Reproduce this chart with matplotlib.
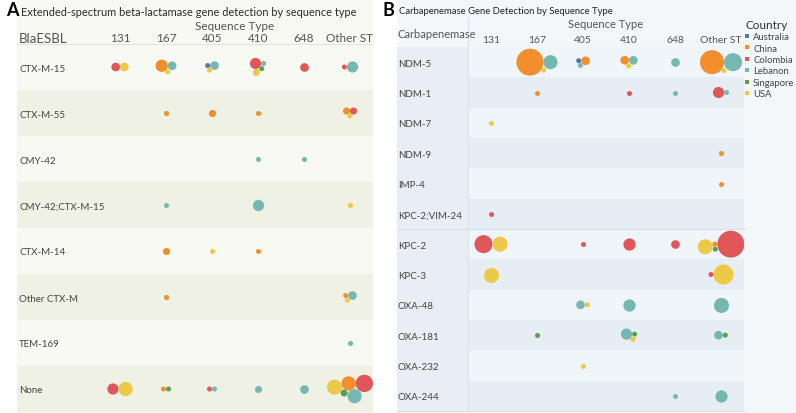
import numpy as np
import matplotlib.pyplot as plt
from matplotlib.lines import Line2D
from matplotlib.patches import Rectangle

plt.rcParams['font.family'] = ['Lato', 'DejaVu Sans']

W, H = 796, 414

sequence_types = ['131', '167', '405', '410', '648', 'Other ST']
countries = ['Australia', 'China', 'Colombia', 'Lebanon', 'Singapore', 'USA']
country_colors = ['#4e79a7', '#f28e2b', '#e15759', '#76b7b2', '#59a14f', '#edc948']

esbl_genes = ['CTX-M-15', 'CTX-M-55', 'CMY-42', 'CMY-42;CTX-M-15', 'CTX-M-14',
              'Other CTX-M', 'TEM-169', 'None']
# (gene, sequence type, country, number of isolates)
esbl_counts = [
    ('CTX-M-15', '131', 'Colombia', 3), ('CTX-M-15', '131', 'USA', 3),
    ('CTX-M-15', '167', 'China', 6), ('CTX-M-15', '167', 'Lebanon', 3), ('CTX-M-15', '167', 'USA', 1),
    ('CTX-M-15', '405', 'Australia', 1), ('CTX-M-15', '405', 'Lebanon', 3), ('CTX-M-15', '405', 'USA', 1),
    ('CTX-M-15', '410', 'Colombia', 5), ('CTX-M-15', '410', 'Lebanon', 1),
    ('CTX-M-15', '410', 'Singapore', 1), ('CTX-M-15', '410', 'USA', 2),
    ('CTX-M-15', '648', 'Colombia', 3),
    ('CTX-M-15', 'Other ST', 'Colombia', 1), ('CTX-M-15', 'Other ST', 'Lebanon', 5),
    ('CTX-M-55', '167', 'China', 1), ('CTX-M-55', '405', 'China', 2), ('CTX-M-55', '410', 'China', 1),
    ('CTX-M-55', 'Other ST', 'China', 2), ('CTX-M-55', 'Other ST', 'Colombia', 2),
    ('CTX-M-55', 'Other ST', 'USA', 1),
    ('CMY-42', '410', 'Lebanon', 1), ('CMY-42', '648', 'Lebanon', 1),
    ('CMY-42;CTX-M-15', '167', 'Lebanon', 1), ('CMY-42;CTX-M-15', '410', 'Lebanon', 5),
    ('CMY-42;CTX-M-15', 'Other ST', 'USA', 1),
    ('CTX-M-14', '167', 'China', 2), ('CTX-M-14', '405', 'USA', 1), ('CTX-M-14', '410', 'China', 1),
    ('Other CTX-M', '167', 'China', 1), ('Other CTX-M', 'Other ST', 'China', 1),
    ('Other CTX-M', 'Other ST', 'Lebanon', 3), ('Other CTX-M', 'Other ST', 'USA', 1),
    ('TEM-169', 'Other ST', 'Lebanon', 1),
    ('None', '131', 'Colombia', 5), ('None', '131', 'USA', 8),
    ('None', '167', 'China', 1), ('None', '167', 'Singapore', 1),
    ('None', '405', 'Colombia', 1), ('None', '405', 'Lebanon', 1),
    ('None', '410', 'Lebanon', 2), ('None', '648', 'Lebanon', 3),
    ('None', 'Other ST', 'China', 8), ('None', 'Other ST', 'Colombia', 12),
    ('None', 'Other ST', 'Lebanon', 8), ('None', 'Other ST', 'Singapore', 2),
    ('None', 'Other ST', 'USA', 9),
]

carb_genes = ['NDM-5', 'NDM-1', 'NDM-7', 'NDM-9', 'IMP-4', 'KPC-2;VIM-24', 'KPC-2',
              'KPC-3', 'OXA-48', 'OXA-181', 'OXA-232', 'OXA-244']
carb_counts = [
    ('NDM-5', '167', 'China', 29), ('NDM-5', '167', 'Lebanon', 8), ('NDM-5', '167', 'USA', 1),
    ('NDM-5', '405', 'Australia', 1), ('NDM-5', '405', 'China', 3), ('NDM-5', '405', 'Lebanon', 1),
    ('NDM-5', '410', 'China', 3), ('NDM-5', '410', 'Lebanon', 3), ('NDM-5', '410', 'USA', 1),
    ('NDM-5', '648', 'Lebanon', 3),
    ('NDM-5', 'Other ST', 'China', 23), ('NDM-5', 'Other ST', 'Lebanon', 13),
    ('NDM-5', 'Other ST', 'USA', 1),
    ('NDM-1', '167', 'China', 1), ('NDM-1', '410', 'Colombia', 1), ('NDM-1', '648', 'Lebanon', 1),
    ('NDM-1', 'Other ST', 'Colombia', 5), ('NDM-1', 'Other ST', 'Lebanon', 1),
    ('NDM-7', '131', 'USA', 1),
    ('NDM-9', 'Other ST', 'China', 1),
    ('IMP-4', 'Other ST', 'China', 1),
    ('KPC-2;VIM-24', '131', 'Colombia', 1),
    ('KPC-2', '131', 'Colombia', 13), ('KPC-2', '131', 'USA', 9),
    ('KPC-2', '405', 'Colombia', 1), ('KPC-2', '410', 'Colombia', 6), ('KPC-2', '648', 'Colombia', 3),
    ('KPC-2', 'Other ST', 'China', 1), ('KPC-2', 'Other ST', 'Colombia', 29),
    ('KPC-2', 'Other ST', 'Singapore', 1), ('KPC-2', 'Other ST', 'USA', 9),
    ('KPC-3', '131', 'USA', 9), ('KPC-3', 'Other ST', 'Colombia', 1), ('KPC-3', 'Other ST', 'USA', 16),
    ('OXA-48', '405', 'Lebanon', 3), ('OXA-48', '405', 'USA', 1), ('OXA-48', '410', 'Lebanon', 6),
    ('OXA-48', 'Other ST', 'Lebanon', 9),
    ('OXA-181', '167', 'Singapore', 1), ('OXA-181', '410', 'Lebanon', 5),
    ('OXA-181', '410', 'Singapore', 1), ('OXA-181', '410', 'USA', 1),
    ('OXA-181', 'Other ST', 'Lebanon', 3), ('OXA-181', 'Other ST', 'Singapore', 1),
    ('OXA-232', '405', 'USA', 1),
    ('OXA-244', '648', 'Lebanon', 1), ('OXA-244', 'Other ST', 'Lebanon', 6),
]


def fx(px):
    return px / W


def fy(py):
    return 1 - py / H


def pack(radii):
    # greedy circle packing around the cell centre (pixel units, y down)
    placed = []
    for r in radii:
        if not placed:
            placed.append((0.0, 0.0, r))
            continue
        best = None
        for cx, cy, cr in placed:
            for a in np.radians(np.arange(0, 360, 5)):
                x = cx + (cr + r) * np.cos(a)
                y = cy + (cr + r) * np.sin(a)
                if all(np.hypot(x - px, y - py) >= pr + r - 1e-6 for px, py, pr in placed):
                    d = np.hypot(x, y)
                    if best is None or d < best[0] - 1e-6:
                        best = (d, x, y)
        placed.append((best[1], best[2], r))
    p = np.array(placed)
    xc = ((p[:, 0] - p[:, 2]).min() + (p[:, 0] + p[:, 2]).max()) / 2
    yc = ((p[:, 1] - p[:, 2]).min() + (p[:, 1] + p[:, 2]).max()) / 2
    return p[:, 0] - xc, p[:, 1] - yc


def draw_bubbles(ax, genes, records, col_px, row_px):
    for g in genes:
        for st in sequence_types:
            cell = [(c, n) for gg, s, c, n in records if gg == g and s == st]
            if not cell:
                continue
            radii = [2.5 * np.sqrt(n) for c, n in cell]
            dx, dy = pack(radii)
            xs = sequence_types.index(st) + dx / col_px
            ys = genes.index(g) + dy / row_px
            cols = [country_colors[countries.index(c)] for c, n in cell]
            sizes = [(2 * r * 0.72) ** 2 for r in radii]
            ax.scatter(xs, ys, s=sizes, c=cols, linewidths=0, zorder=3)


fig = plt.figure(figsize=(W / 100, H / 100), dpi=100)
fig.patch.set_facecolor('white')

# ---------------- panel A ----------------
fig.patches.append(Rectangle((fx(17), 0), fx(356), 1, transform=fig.transFigure,
                             facecolor='#f7f9f2', edgecolor='none', zorder=-5))
axA = fig.add_axes([fx(97), fy(413), fx(276), 368 / H])
axA.set_xlim(-0.5, 5.5)
axA.set_ylim(len(esbl_genes) - 0.5, -0.5)
axA.set_facecolor('none')
for i in range(len(esbl_genes)):
    axA.axhspan(i - 0.5, i + 0.5, xmin=-80 / 276, xmax=1,
                color='#f7f9f2' if i % 2 == 0 else '#eef1e4', clip_on=False, zorder=0, lw=0)
axA.axhline(-0.5, xmin=-80 / 276, xmax=1, color='#e3e7da', lw=0.8, clip_on=False)
draw_bubbles(axA, esbl_genes, esbl_counts, 46, 46)
for s in axA.spines.values():
    s.set_visible(False)
axA.xaxis.tick_top()
axA.set_xticks(range(len(sequence_types)))
axA.set_xticklabels(sequence_types, fontsize=8.5, color='#555555')
axA.set_yticks(range(len(esbl_genes)))
axA.set_yticklabels(esbl_genes, fontsize=7, color='#444444', ha='left')
axA.tick_params(axis='x', length=0, pad=1)
axA.tick_params(axis='y', length=0, pad=78 * 0.72)

fig.text(fx(6), fy(11), 'A', fontsize=13, fontweight='bold', va='center', color='black')
fig.text(fx(21), fy(13), 'Extended-spectrum beta-lactamase gene detection by sequence type',
         fontsize=7.9, va='center', color='#2b2b2b')
fig.text(fx(235), fy(27), 'Sequence Type', fontsize=8.5, va='center', ha='center', color='#555555')
fig.text(fx(19), fy(39), 'BlaESBL', fontsize=9.5, va='center', color='#555555')

# ---------------- panel B ----------------
fig.patches.append(Rectangle((fx(397), 0), fx(399), 1, transform=fig.transFigure,
                             facecolor='#f3f7fa', edgecolor='none', zorder=-5))
axB = fig.add_axes([fx(468), fy(412), fx(276), 364 / H])
axB.set_xlim(-0.5, 5.5)
axB.set_ylim(len(carb_genes) - 0.5, -0.5)
axB.set_facecolor('none')
axB.axhspan(-0.5, len(carb_genes) - 0.5, xmin=-71 / 276, xmax=0, color='#e8eef3',
            clip_on=False, zorder=0, lw=0)
for i in range(len(carb_genes)):
    axB.axhspan(i - 0.5, i + 0.5, color='#f0f5f9' if i % 2 == 0 else '#e6eef3', zorder=0, lw=0)
axB.axhline(5.5, xmin=-71 / 276, xmax=1, color='#d9e1e7', lw=0.8, clip_on=False, zorder=1)
axB.axhline(len(carb_genes) - 0.5, xmin=-71 / 276, xmax=1, color='#d9e1e7', lw=0.8,
            clip_on=False, zorder=1)
axB.plot([-0.5, -0.5], [len(carb_genes) - 0.5, -1.5], color='#dbe2e8', lw=0.8,
         clip_on=False, zorder=1)
draw_bubbles(axB, carb_genes, carb_counts, 46, 364 / len(carb_genes))
for s in axB.spines.values():
    s.set_visible(False)
axB.xaxis.tick_top()
axB.set_xticks(range(len(sequence_types)))
axB.set_xticklabels(sequence_types, fontsize=7.5, color='#555555')
axB.set_yticks(range(len(carb_genes)))
axB.set_yticklabels(carb_genes, fontsize=7, color='#444444', ha='left')
axB.tick_params(axis='x', length=0, pad=2)
axB.tick_params(axis='y', length=0, pad=70 * 0.72)

fig.text(fx(382), fy(11), 'B', fontsize=13, fontweight='bold', va='center', color='black')
fig.text(fx(399), fy(11), 'Carbapenemase Gene Detection by Sequence Type',
         fontsize=6.8, va='center', color='#222222')
fig.text(fx(606), fy(24), 'Sequence Type', fontsize=8, va='center', ha='center', color='#555555')
fig.text(fx(398), fy(35), 'Carbapenemase', fontsize=8, va='center', color='#555555')

handles = [Line2D([], [], marker='s', linestyle='none', markersize=3.3, color=c,
                  markeredgewidth=0) for c in country_colors]
leg = fig.legend(handles, countries, title='Country', loc='upper left',
                 bbox_to_anchor=(fx(745), fy(20)), frameon=False, fontsize=6.8,
                 title_fontsize=8.5, labelspacing=0.25, handlelength=0.5,
                 handletextpad=0.35, borderpad=0, borderaxespad=0)
leg._legend_box.align = 'left'
for t in leg.get_texts():
    t.set_color('#444444')
leg.get_title().set_color('#333333')

fig.savefig('out.png', dpi=100)
